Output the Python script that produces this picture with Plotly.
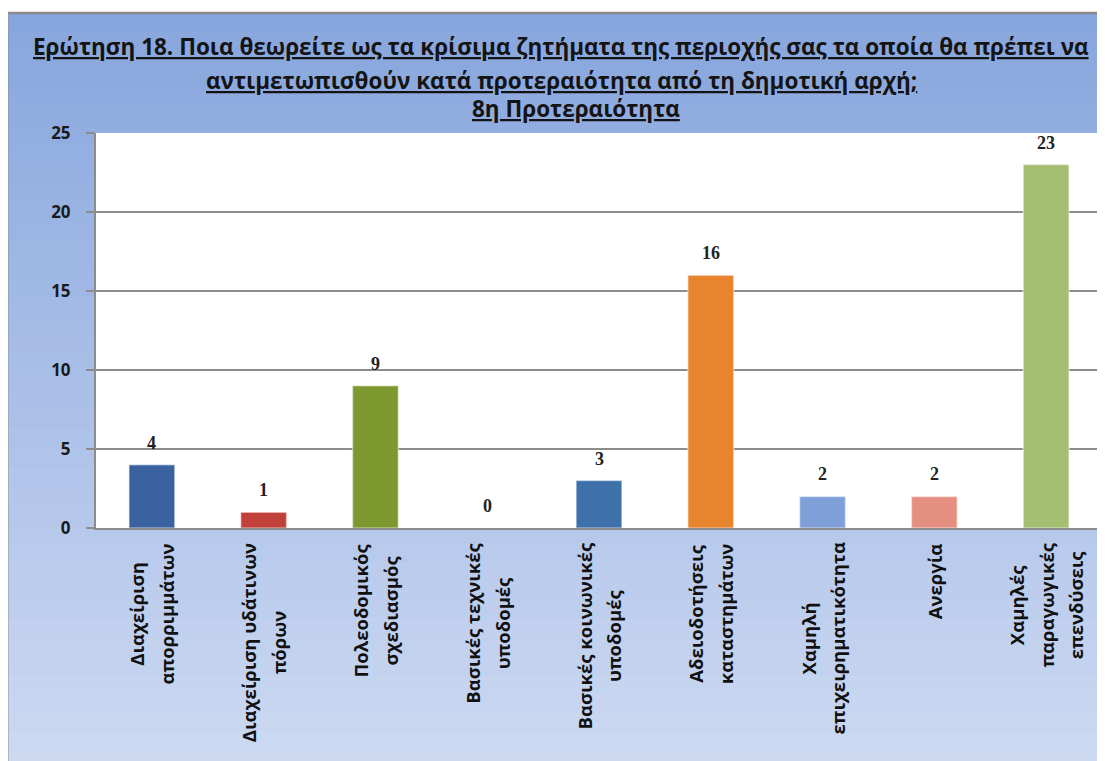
import plotly.graph_objects as go

categories = [
    "Διαχείριση\nαπορριμμάτων",
    "Διαχείριση υδάτινων\nπόρων",
    "Πολεοδομικός\nσχεδιασμός",
    "Βασικές τεχνικές\nυποδομές",
    "Βασικές κοινωνικές\nυποδομές",
    "Αδειοδοτήσεις\nκαταστημάτων",
    "Χαμηλή\nεπιχειρηματικότητα",
    "Ανεργία",
    "Χαμηλές\nπαραγωγικές\nεπενδύσεις",
]
values = [4, 1, 9, 0, 3, 16, 2, 2, 23]
bar_colors = ["#3b62a0", "#c2403a", "#7d982e", "#7b5fa0", "#3e70a9",
              "#e8832e", "#7f9fd8", "#e58f80", "#a4bf72"]
title_lines = [
    "Ερώτηση 18. Ποια θεωρείτε ως τα κρίσιμα ζητήματα της περιοχής σας τα οποία θα πρέπει να",
    "αντιμετωπισθούν κατά προτεραιότητα από τη δημοτική αρχή;",
    "8η Προτεραιότητα",
]
y_ticks = [0, 5, 10, 15, 20, 25]

# page body has an 8px margin: work in screen pixels, offset by 8
OFF = 8
W, H = 1105 - OFF, 761 - OFF
L = 96 - OFF
T = 133 - OFF
PLOT_R = 1104 - OFF
PLOT_B = 528 - OFF
R = W - PLOT_R
B = H - PLOT_B
PW, PH = PLOT_R - L, PLOT_B - T

def px_x(x):
    return (x - OFF - L) / PW

def px_y(y):
    return (PLOT_B - (y - OFF)) / PH

FONT = "Open Sans"

fig = go.Figure()
fig.add_trace(go.Bar(
    x=list(range(len(categories))), y=values,
    marker=dict(color=bar_colors, line=dict(color="rgba(255,255,255,0.45)", width=1.5)),
    width=0.41, hoverinfo="skip",
))

shapes = []
n = 40
top_c = (136, 166, 222)
bot_c = (204, 217, 241)
y0p, y1p = 13, 770
for i in range(n):
    t = i / (n - 1)
    c = tuple(int(round(top_c[k] + (bot_c[k] - top_c[k]) * t)) for k in range(3))
    ya = y0p + (y1p - y0p) * i / n
    yb = y0p + (y1p - y0p) * (i + 1) / n + 1
    shapes.append(dict(type="rect", xref="paper", yref="paper",
                       x0=px_x(7), x1=px_x(1110), y0=px_y(yb), y1=px_y(ya),
                       fillcolor="rgb(%d,%d,%d)" % c, line=dict(width=0), layer="below"))
shapes.append(dict(type="rect", xref="paper", yref="paper", x0=0, x1=1, y0=0, y1=1,
                   fillcolor="white", line=dict(width=0), layer="below"))
shapes.append(dict(type="line", xref="paper", yref="paper",
                   x0=px_x(7), x1=px_x(1110), y0=px_y(13), y1=px_y(13),
                   line=dict(color="#8a8a8a", width=2.5), layer="above"))
shapes.append(dict(type="line", xref="paper", yref="paper",
                   x0=px_x(7), x1=px_x(7), y0=px_y(13), y1=px_y(770),
                   line=dict(color="#8a8a8a", width=2.5), layer="above"))

annotations = []
title_pos = [(562, 47), (562, 81), (577, 108)]
for line, (tx, ty) in zip(title_lines, title_pos):
    annotations.append(dict(xref="paper", yref="paper", x=px_x(tx), y=px_y(ty),
                            xanchor="center", yanchor="middle", showarrow=False,
                            text="<b><u>%s</u></b>" % line,
                            font=dict(family=FONT, size=22.5, color="#141414")))
for i, v in enumerate(values):
    annotations.append(dict(x=i, y=v, xref="x", yref="y", text="<b>%d</b>" % v,
                            showarrow=False, yanchor="middle", yshift=22,
                            font=dict(family="Liberation Serif", size=18, color="#222222")))
for i, c in enumerate(categories):
    lines = c.split("\n")
    txt = "<br>".join("<b><span style='font-size:18.5px'>%s</span></b>" % ln for ln in lines)
    annotations.append(dict(x=i, xref="x", yref="paper", y=px_y(541), text=txt,
                            showarrow=False, textangle=-90, yanchor="top", xanchor="center",
                            align="center",
                            font=dict(family=FONT, size=23, color="#111111")))

fig.update_layout(
    width=W, height=H,
    margin=dict(l=L, r=R, t=T, b=B, pad=0),
    paper_bgcolor="white", plot_bgcolor="white",
    showlegend=False, bargap=0.59,
    shapes=shapes, annotations=annotations,
    xaxis=dict(range=[-0.5, len(categories) - 0.5], showticklabels=False, ticks="",
               showgrid=False, zeroline=False, showline=True, linecolor="#8c8c8c",
               linewidth=2, mirror=False, fixedrange=True),
    yaxis=dict(range=[0, 25], tickvals=y_ticks, ticktext=["<b>%d</b>" % v for v in y_ticks],
               tickfont=dict(family=FONT, size=17, color="#1a1a1a"),
               showgrid=True, gridcolor="#8c8c8c", gridwidth=2,
               zeroline=False, showline=True, linecolor="#8c8c8c", linewidth=2,
               mirror=True, ticks="outside", ticklen=8, tickcolor="#8c8c8c", tickwidth=2,
               ticklabelstandoff=12, fixedrange=True),
)

fig.write_html("out.html")
